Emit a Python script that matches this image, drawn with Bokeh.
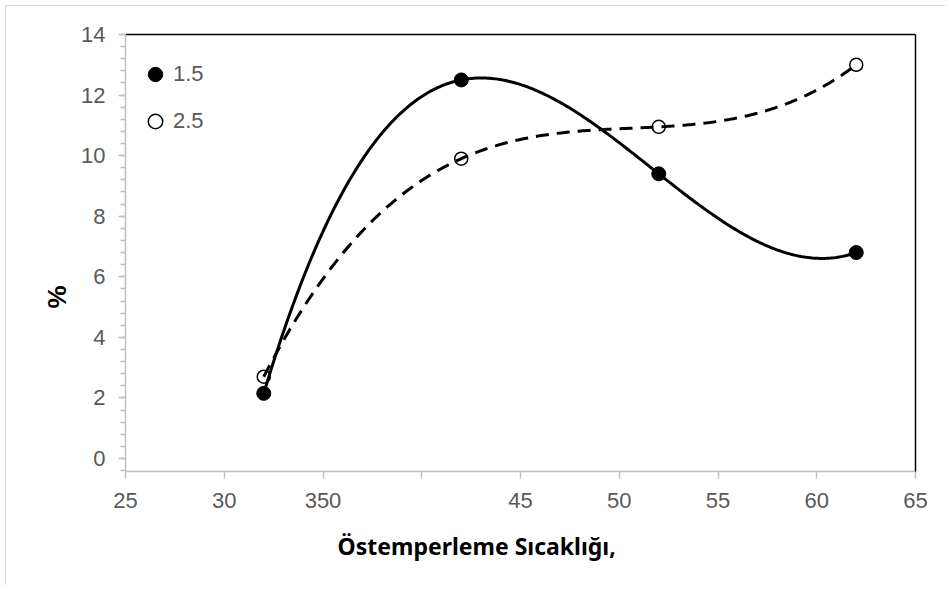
import numpy as np
from bokeh.plotting import figure
from bokeh.models import (Range1d, LinearAxis, FixedTicker, SingleIntervalTicker,
                          Title, Legend, LegendItem)
from bokeh.embed import file_html
from bokeh.resources import INLINE

# ---- data ----
temps = [320, 420, 520, 620]
series_15 = [2.15, 12.5, 9.4, 6.8]
series_25 = [2.7, 9.9, 10.95, 13.0]
series_names = ["1.5", "2.5"]
x_ticks = [250, 300, 350, 400, 450, 500, 550, 600, 650]
x_tick_labels = ["25", "30", "350", "", "45", "50", "55", "60", "65"]
x_title = "Östemperleme Sıcaklığı,"
y_title = "%"

GRAY = "#bfbfbf"
TXT = "#595959"
TICK_FONT = "Liberation Sans"

p = figure(width=940, height=580, output_backend="svg", toolbar_location=None,
           x_range=Range1d(250, 650), y_range=Range1d(-0.43, 14),
           x_axis_type=None, y_axis_type=None,
           min_border_left=119, min_border_top=28, min_border_right=31,
           min_border_bottom=115, outline_line_color=None)
p.styles = {"margin-left": "5px", "margin-top": "5px",
            "border-left": "1px solid #d9d9d9", "border-top": "1px solid #d9d9d9"}

xaxis = LinearAxis(ticker=FixedTicker(ticks=x_ticks),
                   major_label_overrides=dict(zip(x_ticks, x_tick_labels)),
                   axis_line_color=GRAY, axis_line_width=1.5,
                   major_tick_line_color=GRAY, major_tick_line_width=1.5,
                   major_tick_out=7, major_tick_in=0,
                   minor_tick_line_color=None,
                   major_label_text_font=TICK_FONT, major_label_text_font_size="22px",
                   major_label_text_color=TXT, major_label_standoff=14)
p.add_layout(xaxis, "below")

yaxis = LinearAxis(ticker=SingleIntervalTicker(interval=2, num_minor_ticks=5),
                   axis_line_color=GRAY, axis_line_width=1.5,
                   major_tick_line_color=GRAY, major_tick_line_width=1.5,
                   major_tick_out=7, major_tick_in=0,
                   minor_tick_line_color=GRAY, minor_tick_line_width=1.5,
                   minor_tick_out=5, minor_tick_in=0,
                   major_label_text_font=TICK_FONT, major_label_text_font_size="22px",
                   major_label_text_color=TXT, major_label_standoff=13)
p.add_layout(yaxis, "left")

for side in ("above", "right"):
    ax = LinearAxis(ticker=FixedTicker(ticks=[]), axis_line_color="black",
                    axis_line_width=1.5, major_tick_line_color=None,
                    minor_tick_line_color=None, major_label_text_font_size="0px")
    p.add_layout(ax, side)

# axis titles
p.add_layout(Title(text=x_title, align="left", offset=212, vertical_align="top",
                   standoff=38, text_font="Noto Sans", text_font_style="bold",
                   text_font_size="23px", text_color="black"), "below")
p.add_layout(Title(text=y_title, align="left", offset=163, vertical_align="middle",
                   standoff=12, text_font=TICK_FONT, text_font_style="bold",
                   text_font_size="26px", text_color="black"), "left")

# markers
r15 = p.scatter(temps, series_15, size=14, fill_color="black", line_color="black")
r25 = p.scatter(temps, series_25, size=13, fill_color="white", line_color="black",
                line_width=1.5)

# cubic trend curves through the points
xs = np.linspace(temps[0], temps[-1], 300)
c15 = np.polyval(np.polyfit(temps, series_15, 3), xs)
c25 = np.polyval(np.polyfit(temps, series_25, 3), xs)
p.line(xs, c15, line_color="black", line_width=3)
p.line(xs, c25, line_color="black", line_width=3, line_dash="13 8")

legend = Legend(items=[LegendItem(label=series_names[0], renderers=[r15]),
                       LegendItem(label=series_names[1], renderers=[r25])],
                location=(12, 330), glyph_width=36, glyph_height=40, label_height=40,
                spacing=7, padding=0, margin=0, border_line_color=None,
                background_fill_alpha=0, label_text_font=TICK_FONT,
                label_text_font_size="22px", label_text_color=TXT, label_standoff=0)
p.add_layout(legend)

open("out.html", "w").write(file_html(p, INLINE))
